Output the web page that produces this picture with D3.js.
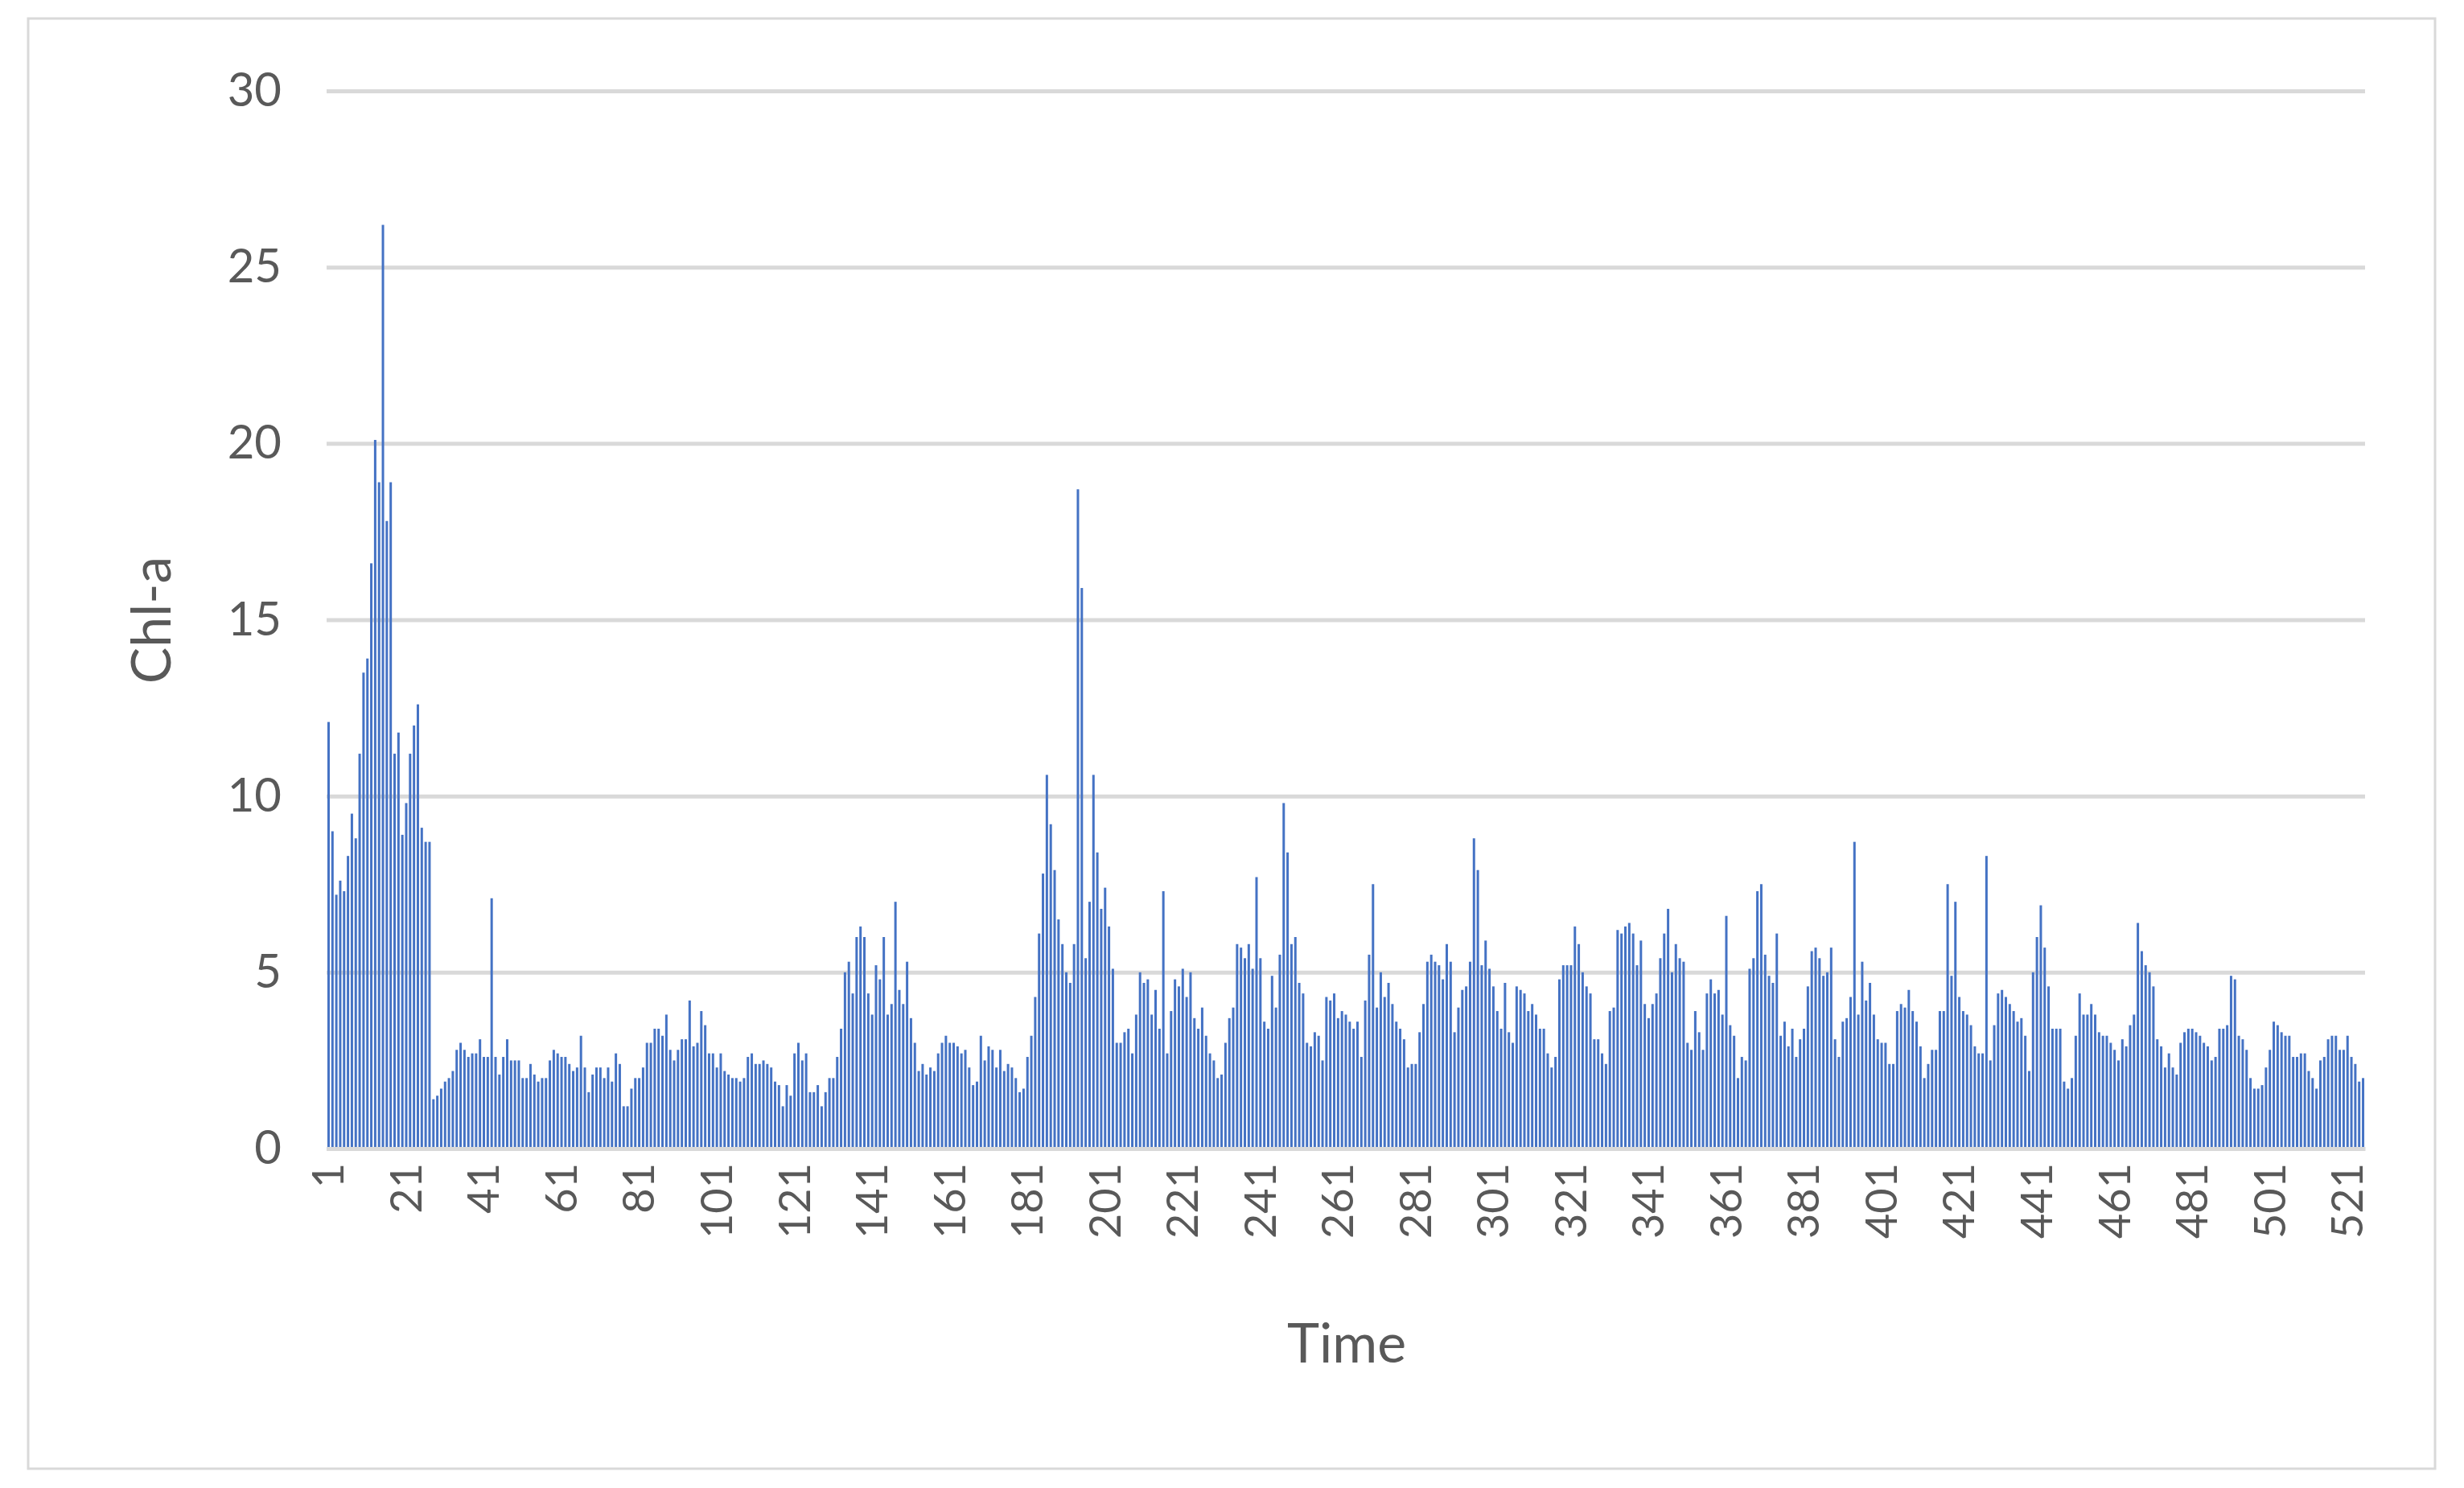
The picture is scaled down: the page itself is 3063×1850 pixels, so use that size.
<!DOCTYPE html>
<html><head><meta charset="utf-8">
<script src="https://cdn.jsdelivr.net/npm/d3@7"></script>
<style>body{margin:0;background:#fff}svg{display:block}</style>
</head><body>
<script>
const seg1 = [12.1,9.0,7.2,7.6,7.3,8.3,9.5,8.8,11.2,13.5,13.9,16.6,20.1,18.9,26.2,17.8,18.9,11.2,11.8,8.9,9.8,11.2,12.0,12.6,9.1,8.7,8.7,1.4,1.5,1.7,1.9,2.0,2.2,2.8,3.0,2.8,2.6,2.7,2.7,3.1,2.6,2.6,7.1,2.6,2.1,2.6,3.1,2.5,2.5,2.5,2.0,2.0,2.4,2.1,1.9,2.0,2.0,2.5,2.8,2.7,2.6,2.6,2.4,2.2,2.3,3.2,2.3,1.6,2.1,2.3,2.3,2.0,2.3,1.9,2.7,2.4,1.2,1.2,1.7,2.0,2.0,2.3,3.0,3.0,3.4,3.4,3.2,3.8];
const seg2 = [2.8,2.5,2.8,3.1,3.1,4.2,2.9,3.0,3.9,3.5,2.7,2.7,2.3,2.7,2.2,2.1,2.0,2.0,1.9,2.0,2.6,2.7,2.4,2.4,2.5,2.4,2.3,1.9,1.8,1.2,1.8,1.5,2.7,3.0,2.5,2.7,1.6,1.6,1.8,1.2,1.6,2.0,2.0,2.6,3.4,5.0,5.3,4.4,6.0,6.3,6.0,4.4,3.8,5.2,4.8,6.0,3.8,4.1,7.0,4.5,4.1,5.3,3.7,3.0,2.2,2.4,2.1,2.3,2.2,2.7,3.0,3.2,3.0,3.0,2.9,2.7,2.8,2.3,1.8,1.9,3.2,2.5,2.9,2.8,2.3,2.8,2.2,2.4,2.3];
const seg3 = [2.0,1.6,1.7,2.6,3.2,4.3,6.1,7.8,10.6,9.2,7.9,6.5,5.8,5.0,4.7,5.8,18.7,15.9,5.4,7.0,10.6,8.4,6.8,7.4,6.3,5.1,3.0,3.0,3.3,3.4,2.7,3.8,5.0,4.7,4.8,3.8,4.5,3.4,7.3,2.7,3.9,4.8,4.6,5.1,4.3,5.0,3.7,3.4,4.0,3.2,2.7,2.5,2.0,2.1,3.0,3.7,4.0,5.8,5.7,5.4,5.8,5.1,7.7,5.4,3.6,3.4,4.9,4.0,5.5,9.8,8.4,5.8,6.0,4.7,4.4,3.0,2.9,3.3,3.2,2.5,4.3,4.2,4.4,3.7,3.9,3.8,3.6,3.4,3.6,2.6];
const seg4 = [4.2,5.5,7.5,4.0,5.0,4.3,4.7,4.1,3.6,3.4,3.1,2.3,2.4,2.4,3.3,4.1,5.3,5.5,5.3,5.2,4.8,5.8,5.3,3.3,4.0,4.5,4.6,5.3,8.8,7.9,5.2,5.9,5.1,4.6,3.9,3.4,4.7,3.3,3.0,4.6,4.5,4.4,3.9,4.1,3.8,3.4,3.4,2.7,2.3,2.6,4.8,5.2,5.2,5.2,6.3,5.8,5.0,4.6,4.4,3.1,3.1,2.7,2.4,3.9,4.0,6.2,6.1,6.3,6.4,6.1,5.2,5.9,4.1,3.7,4.1,4.4,5.4,6.1,6.8,5.0,5.8,5.4,5.3,3.0,2.8,3.9];
const seg5 = [3.3,2.8,4.4,4.8,4.4,4.5,3.8,6.6,3.5,3.2,2.0,2.6,2.5,5.1,5.4,7.3,7.5,5.5,4.9,4.7,6.1,3.2,3.6,2.9,3.4,2.6,3.1,3.4,4.6,5.6,5.7,5.4,4.9,5.0,5.7,3.1,2.6,3.6,3.7,4.3,8.7,3.8,5.3,4.2,4.7,3.8,3.1,3.0,3.0,2.4,2.4,3.9,4.1,4.0,4.5,3.9,3.6,2.9,2.0,2.4,2.8,2.8,3.9,3.9,7.5,4.9,7.0,4.3,3.9,3.8,3.5,2.9,2.7,2.7,8.3,2.5,3.5,4.4,4.5,4.3,4.1,3.9,3.6,3.7,3.2,2.2];
const seg6 = [5.0,6.0,6.9,5.7,4.6,3.4,3.4,3.4,1.9,1.7,2.0,3.2,4.4,3.8,3.8,4.1,3.8,3.3,3.2,3.2,3.0,2.8,2.5,3.1,2.9,3.5,3.8,6.4,5.6,5.2,5.0,4.6,3.1,2.9,2.3,2.7,2.3,2.1,3.0,3.3,3.4,3.4,3.3,3.2,3.0,2.9,2.5,2.6,3.4,3.4,3.5,4.9,4.8,3.2,3.1,2.8,2.0,1.7,1.7,1.8,2.3,2.8,3.6,3.5,3.3,3.2,3.2,2.6,2.6,2.7,2.7,2.2,2.0,1.7,2.5,2.6,3.1,3.2,3.2,2.8,2.8,3.2,2.6,2.4,1.9,2.0];
const chla = [].concat(seg1, seg2, seg3, seg4, seg5, seg6);
const times = chla.map((d, i) => i + 1);
const yTicks = [0, 5, 10, 15, 20, 25, 30];
const xTickLabels = times.filter(t => (t - 1) % 20 === 0);

const W = 3063, H = 1850;
const m = {left: 406, right: W - 2940, top: 113, bottom: H - 1428};
const font = "Lato, 'Open Sans', sans-serif";
const svg = d3.select("body").append("svg").attr("width", W).attr("height", H);
svg.append("rect").attr("x", 0).attr("y", 0).attr("width", W).attr("height", H).attr("fill", "#fff");
svg.append("rect").attr("x", 35).attr("y", 23).attr("width", 2992).attr("height", 1803)
  .attr("fill", "none").attr("stroke", "#d9d9d9").attr("stroke-width", 3);

const x = d3.scaleBand().domain(times).range([m.left, W - m.right]).paddingInner(0.38).paddingOuter(0.2);
const y = d3.scaleLinear().domain([0, 30]).range([H - m.bottom, m.top]);

const g = svg.append("g");
const ya = g.append("g").attr("transform", `translate(${m.left},0)`)
  .call(d3.axisLeft(y).tickValues(yTicks).tickSize(-(W - m.left - m.right)).tickPadding(56));
ya.select(".domain").remove();
ya.selectAll(".tick line").attr("stroke", "#d9d9d9").attr("stroke-width", 5);
ya.selectAll(".tick text").attr("fill", "#595959").attr("font-family", font).attr("font-size", 58);

g.append("g").selectAll("rect").data(chla).join("rect")
  .attr("x", (d, i) => x(times[i])).attr("width", x.bandwidth())
  .attr("y", d => y(d)).attr("height", d => y(0) - y(d)).attr("fill", "#4472c4");

const xa = g.append("g").attr("transform", `translate(0,${H - m.bottom})`)
  .call(d3.axisBottom(x).tickValues(xTickLabels).tickSize(0).tickPadding(0));
xa.select(".domain").attr("stroke", "#d9d9d9").attr("stroke-width", 5);
xa.selectAll(".tick text").attr("fill", "#595959").attr("font-family", font).attr("font-size", 54)
  .attr("transform", "rotate(-90)").attr("text-anchor", "end").attr("dy", "0.35em").attr("x", -18).attr("y", 0);

svg.append("text").attr("x", 1674).attr("y", 1694).attr("text-anchor", "middle")
  .attr("fill", "#595959").attr("font-family", font).attr("font-size", 68).text("Time");
svg.append("text").attr("transform", "translate(212,771) rotate(-90)").attr("text-anchor", "middle")
  .attr("fill", "#595959").attr("font-family", font).attr("font-size", 68).text("Chl-a");
</script>
</body></html>
